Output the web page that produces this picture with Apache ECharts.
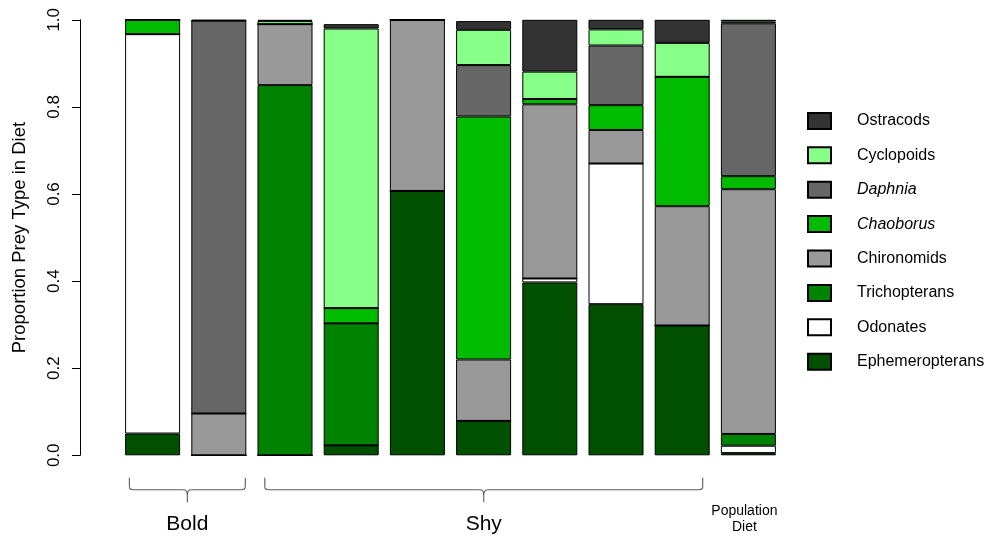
<!DOCTYPE html>
<html>
<head>
<meta charset="utf-8">
<title>Prey types in diet</title>
<script src="https://cdn.jsdelivr.net/npm/echarts@6/dist/echarts.min.js"></script>
<style>
  html, body { margin: 0; padding: 0; background: #fff; }
  #chart { width: 994px; height: 537px; }
</style>
</head>
<body>
<div id="chart"></div>
<script>
// Individual fish (2 bold, 7 shy) plus the pooled population diet
var categories = ['Bold 1', 'Bold 2', 'Shy 1', 'Shy 2', 'Shy 3', 'Shy 4', 'Shy 5', 'Shy 6', 'Shy 7', 'Population'];

// Proportion of each prey type, stacked bottom to top
var ephemeropterans = [0.050, 0,     0,     0.023, 0.607, 0.079, 0.397, 0.347, 0.298, 0.005];
var odonates        = [0.917, 0,     0,     0,     0,     0,     0.009, 0.323, 0,     0.017];
var trichopterans   = [0,     0,     0.850, 0.280, 0,     0,     0,     0,     0,     0.027];
var chironomids     = [0,     0.096, 0.140, 0,     0.393, 0.141, 0.400, 0.077, 0.274, 0.562];
var chaoborus       = [0.033, 0,     0,     0.035, 0,     0.558, 0.012, 0.057, 0.297, 0.030];
var daphnia         = [0,     0.902, 0,     0,     0,     0.118, 0,     0.137, 0,     0.351];
var cyclopoids      = [0,     0,     0.007, 0.642, 0,     0.081, 0.063, 0.037, 0.078, 0.004];
var ostracods       = [0,     0.002, 0.003, 0.010, 0,     0.020, 0.119, 0.022, 0.053, 0.004];

var yTicks = [0, 0.2, 0.4, 0.6, 0.8, 1.0];

// Groupings marked with braces under the bars
var groups = [
  { label: 'Bold', from: 0, to: 1, insetL: 4.3, insetR: 1 },
  { label: 'Shy',  from: 2, to: 8, insetL: 7.3, insetR: 7 }
];

var preySeries = [
  { name: 'Ephemeropterans', data: ephemeropterans, color: '#005000' },
  { name: 'Odonates',        data: odonates,        color: '#ffffff' },
  { name: 'Trichopterans',   data: trichopterans,   color: '#008300' },
  { name: 'Chironomids',     data: chironomids,     color: '#999999' },
  { name: 'Chaoborus',       data: chaoborus,       color: '#00bb00', italic: true },
  { name: 'Daphnia',         data: daphnia,         color: '#666666', italic: true },
  { name: 'Cyclopoids',      data: cyclopoids,      color: '#88ff88' },
  { name: 'Ostracods',       data: ostracods,       color: '#333333' }
];

var FONT = '"Liberation Sans", Arial, Helvetica, sans-serif';
var BAR_WIDTH = 55;

var chart = echarts.init(document.getElementById('chart'), null, { renderer: 'canvas' });

var italicNames = {};
preySeries.forEach(function (s) { if (s.italic) italicNames[s.name] = true; });

chart.setOption({
  animation: false,
  backgroundColor: '#ffffff',
  grid: { left: 119.5, right: 212.5, top: 19.8, bottom: 81.7, containLabel: false },
  legend: {
    orient: 'vertical',
    left: 807,
    top: 111.9,
    padding: 0,
    itemWidth: 23,
    itemHeight: 16,
    itemGap: 16.4,
    icon: 'rect',
    selectedMode: false,
    data: preySeries.slice().reverse().map(function (s) { return s.name; }),
    formatter: function (name) {
      return italicNames[name] ? '{i|' + name + '}' : '{n|' + name + '}';
    },
    textStyle: {
      fontFamily: FONT,
      fontSize: 16,
      color: '#000',
      lineHeight: 16,
      rich: {
        n: { fontFamily: FONT, fontSize: 16, color: '#000', lineHeight: 16, padding: [0, 0, 0, 21] },
        i: { fontFamily: FONT, fontSize: 16, color: '#000', lineHeight: 16, fontStyle: 'italic', padding: [0, 0, 0, 21] }
      }
    }
  },
  xAxis: {
    type: 'category',
    data: categories,
    axisLine: { show: false },
    axisTick: { show: false },
    axisLabel: { show: false },
    splitLine: { show: false }
  },
  yAxis: {
    type: 'value',
    min: 0,
    max: 1,
    interval: 0.2,
    offset: 39.5,
    name: 'Proportion Prey Type in Diet',
    nameLocation: 'middle',
    nameGap: 51,
    nameTextStyle: { fontFamily: FONT, fontSize: 18.5, color: '#000' },
    axisLine: { show: true, lineStyle: { color: '#000', width: 1 } },
    axisTick: { show: true, inside: false, length: 8, lineStyle: { color: '#000', width: 1 } },
    splitLine: { show: false },
    axisLabel: {
      rotate: 90,
      margin: 17,
      fontFamily: FONT,
      fontSize: 17,
      color: '#000',
      formatter: function (v) {
        for (var k = 0; k < yTicks.length; k++) {
          if (Math.abs(yTicks[k] - v) < 1e-9) return yTicks[k].toFixed(1);
        }
        return '';
      }
    }
  },
  series: preySeries.map(function (s) {
    return {
      name: s.name,
      type: 'bar',
      stack: 'diet',
      barWidth: BAR_WIDTH,
      data: s.data,
      itemStyle: { color: s.color, borderColor: '#000', borderWidth: 1 },
      emphasis: { disabled: true }
    };
  })
});

// Braces and group labels placed from the category axis positions
function braceLine(x1, y1, x2, y2) {
  return { type: 'line', shape: { x1: x1, y1: y1, x2: x2, y2: y2 } };
}
function braceCurve(x1, y1, cx, cy, x2, y2) {
  return { type: 'bezierCurve', shape: { x1: x1, y1: y1, cpx1: cx, cpy1: cy, x2: x2, y2: y2 } };
}

function drawGroups() {
  var base = chart.convertToPixel({ gridIndex: 0 }, [0, 0]);
  var y0 = base[1];
  var yTop = y0 + 22.5, yMid = y0 + 34.5, yTip = y0 + 47, yLabel = y0 + 69;
  var elements = [];
  var braceStyle = { fill: null, stroke: '#5a5a5a', lineWidth: 1.1 };

  groups.forEach(function (g) {
    var xa = chart.convertToPixel({ gridIndex: 0 }, [g.from, 0])[0] - BAR_WIDTH / 2 + g.insetL;
    var xb = chart.convertToPixel({ gridIndex: 0 }, [g.to, 0])[0] + BAR_WIDTH / 2 - g.insetR;
    var cx = (xa + xb) / 2;
    var parts = [
      braceLine(xa, yTop, xa, yMid - 3),
      braceCurve(xa, yMid - 3, xa, yMid, xa + 4, yMid),
      braceLine(xa + 4, yMid, cx - 4, yMid),
      braceCurve(cx - 4, yMid, cx, yMid, cx, yMid + 5),
      braceLine(cx, yMid + 5, cx, yTip),
      braceCurve(cx + 4, yMid, cx, yMid, cx, yMid + 5),
      braceLine(cx + 4, yMid, xb - 4, yMid),
      braceCurve(xb - 4, yMid, xb, yMid, xb, yMid - 3),
      braceLine(xb, yMid - 3, xb, yTop)
    ];
    parts.forEach(function (p) {
      p.style = braceStyle;
      p.silent = true;
      elements.push(p);
    });
    elements.push({
      type: 'text',
      x: cx,
      y: yLabel,
      style: {
        text: g.label,
        fontFamily: FONT,
        fontSize: 21,
        fill: '#000',
        align: 'center',
        verticalAlign: 'middle'
      },
      silent: true
    });
  });

  var popX = chart.convertToPixel({ gridIndex: 0 }, [categories.length - 1, 0])[0] - 4;
  elements.push({
    type: 'text',
    x: popX,
    y: y0 + 63.5,
    style: {
      text: 'Population\nDiet',
      fontFamily: FONT,
      fontSize: 14,
      lineHeight: 16,
      fill: '#000',
      align: 'center',
      verticalAlign: 'middle'
    },
    silent: true
  });

  chart.setOption({ graphic: { elements: elements } });
}

drawGroups();
</script>
</body>
</html>
